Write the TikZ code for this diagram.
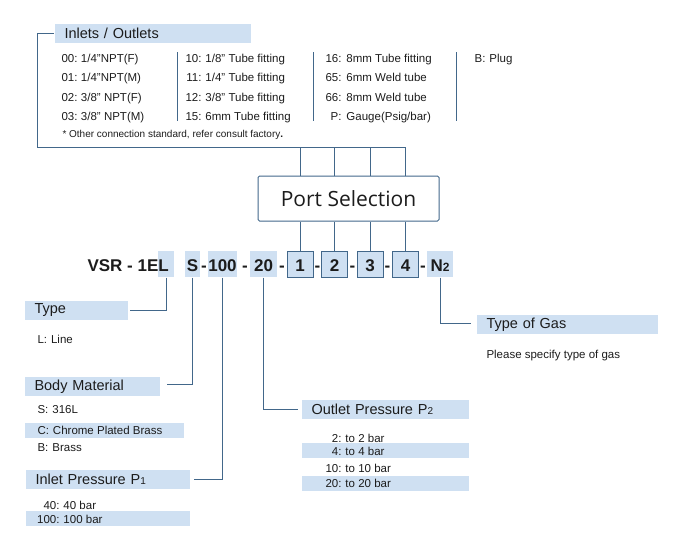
\documentclass[tikz,border=0pt]{standalone}
\usepackage{fontspec}
\setmainfont{Liberation Sans}
\newfontfamily\psfont{Open Sans}
\usepackage{xcolor}
\definecolor{ln}{RGB}{66,103,138}
\definecolor{hd}{RGB}{207,224,242}
\definecolor{txt}{RGB}{28,28,28}

\begin{document}
\begin{tikzpicture}[x=1pt,y=-1pt,line width=1pt,
  wire/.style={draw=ln},
  tx/.style={font=\fontsize{11.5}{13}\selectfont,text=txt,inner sep=0pt,anchor=base west},
  hdr/.style={fill=hd,anchor=west,inner xsep=10pt,inner ysep=0pt,minimum height=19pt,
    text width=#1,align=left,font=\fontsize{14.5}{16}\selectfont,text=txt},
  band/.style={fill=hd,anchor=west,minimum height=15pt,inner sep=0pt,minimum width=#1},
  code/.style={font=\bfseries\fontsize{17}{20}\selectfont,text=txt,inner sep=0pt},
  hl/.style={code,fill=hd,minimum height=26pt,minimum width=#1,text height=15pt,text depth=0pt},
  pbox/.style={hl=26pt,draw=ln}]
\useasboundingbox (0,0) rectangle (683,549);

% inlets / outlets table
\node[hdr=176pt] (io) at (54,33.5) {Inlets / Outlets};
\node[tx] (e00) at (77,62) {\llap{00:}\hspace{3.5pt}1/4"NPT(F)};
\node[tx] (e01) at (77,81) {\llap{01:}\hspace{3.5pt}1/4"NPT(M)};
\node[tx] (e02) at (77,101) {\llap{02:}\hspace{3.5pt}3/8" NPT(F)};
\node[tx] (e03) at (77,120) {\llap{03:}\hspace{3.5pt}3/8" NPT(M)};
\node[tx] (e10) at (201,62) {\llap{10:}\hspace{4pt}1/8" Tube fitting};
\node[tx] (e11) at (201,81) {\llap{11:}\hspace{4pt}1/4" Tube fitting};
\node[tx] (e12) at (201,101) {\llap{12:}\hspace{4pt}3/8" Tube fitting};
\node[tx] (e15) at (201,120) {\llap{15:}\hspace{4pt}6mm Tube fitting};
\node[tx] (e16) at (341,62) {\llap{16:}\hspace{5pt}8mm Tube fitting};
\node[tx] (e65) at (341,81) {\llap{65:}\hspace{5pt}6mm Weld tube};
\node[tx] (e66) at (341,101) {\llap{66:}\hspace{5pt}8mm Weld tube};
\node[tx] (eP) at (341,120) {\llap{P:}\hspace{5pt}Gauge(Psig/bar)};
\node[tx] (eB) at (485,62) {\llap{B:}\hspace{4pt}Plug};
\node[tx,font=\fontsize{10}{12}\selectfont] (note) at (62,137)
  {* Other connection standard, refer consult factory\textbf{.}};
\draw[wire] (177,52) -- (177,121);
\draw[wire] (313,52) -- (313,121);
\draw[wire] (456,52) -- (456,121);

% model code
\node[hl=16pt] (cL) at (166,264) {};
\node[code,anchor=base west] (vsr) at (87,271.5) {VSR - 1EL};
\node[hl=15pt] (cS) at (192.5,264) {S};
\node[hl=27pt] (c100) at (222.5,264) {100};
\node[hl=27pt] (c20) at (263.5,264) {20};
\node[pbox] (p1) at (300,264) {1};
\node[pbox] (p2) at (334.5,264) {2};
\node[pbox] (p3) at (370,264) {3};
\node[pbox] (p4) at (405.5,264) {4};
\node[hl=26pt] (cN) at (440,264) {N{\fontsize{12}{12}\selectfont 2}};
\node[code,anchor=base] (d1) at (204,271.5) {-};
\node[code,anchor=base] (d2) at (245,271.5) {-};
\node[code,anchor=base] (d3) at (282,271.5) {-};
\node[code,anchor=base] (d4) at (317.5,271.5) {-};
\node[code,anchor=base] (d5) at (352.5,271.5) {-};
\node[code,anchor=base] (d6) at (387.5,271.5) {-};
\node[code,anchor=base] (d7) at (423,271.5) {-};

% port selection
\node[draw=ln,rounded corners=1.5pt,minimum width=181pt,minimum height=45pt,
  font=\psfont\fontsize{21}{24}\selectfont,text=txt] (ps) at (348.5,198.5) {Port Selection};
\coordinate (bk) at (37,147);
\draw[wire] (io.west) -| (bk) -- (bk -| p4);
\foreach \p in {p1,p2,p3,p4}{
  \draw[wire] (bk -| \p) -- (ps.north -| \p);
  \draw[wire] (ps.south -| \p) -- (\p.north);
}

% type
\node[hdr=83pt] (tType) at (24,310.5) {Type};
\node[tx] (eL) at (37,343) {L:\hspace{4pt}Line};
\draw[wire] (cL.south) |- ([xshift=2pt]tType.east);

% body material
\node[hdr=115pt] (tBody) at (24,386.5) {Body Material};
\node[band=159pt] (bC) at (24,430) {};
\node[tx] (eS) at (37,413) {S:\hspace{4pt}316L};
\node[tx] (eC) at (37,434) {C:\hspace{4pt}Chrome Plated Brass};
\node[tx] (eBr) at (37,451) {B:\hspace{4pt}Brass};
\draw[wire] (cS.south) |- ([xshift=7pt,yshift=2pt]tBody.east);

% inlet pressure
\node[hdr=144pt] (tInlet) at (25,479) {Inlet Pressure P{\fontsize{10}{10}\selectfont 1}};
\node[band=164pt] (b100) at (25,518.5) {};
\node[tx] (e40) at (59,509) {\llap{40:}\hspace{4pt}40 bar};
\node[tx] (e100) at (59,523) {\llap{100:}\hspace{4pt}100 bar};
\draw[wire] (c100.south) |- ([xshift=4pt]tInlet.east);

% outlet pressure
\node[hdr=147pt] (tOutlet) at (301,409.5) {Outlet Pressure P{\fontsize{10}{10}\selectfont 2}};
\node[band=167pt] (b4) at (301,450.5) {};
\node[band=167pt] (b20) at (301,483) {};
\node[tx] (o2) at (341,442) {\llap{2:}\hspace{4pt}to 2 bar};
\node[tx] (o4) at (341,455) {\llap{4:}\hspace{4pt}to 4 bar};
\node[tx] (o10) at (341,472) {\llap{10:}\hspace{4pt}to 10 bar};
\node[tx] (o20) at (341,487) {\llap{20:}\hspace{4pt}to 20 bar};
\draw[wire] (c20.south) |- ([xshift=-3pt]tOutlet.west);

% type of gas
\node[hdr=161pt] (tGas) at (476,324.5) {Type of Gas};
\node[tx] (eGas) at (486,358) {Please specify type of gas};
\draw[wire] (cN.south) |- ([xshift=-5pt,yshift=1.5pt]tGas.west);

\end{tikzpicture}
\end{document}
